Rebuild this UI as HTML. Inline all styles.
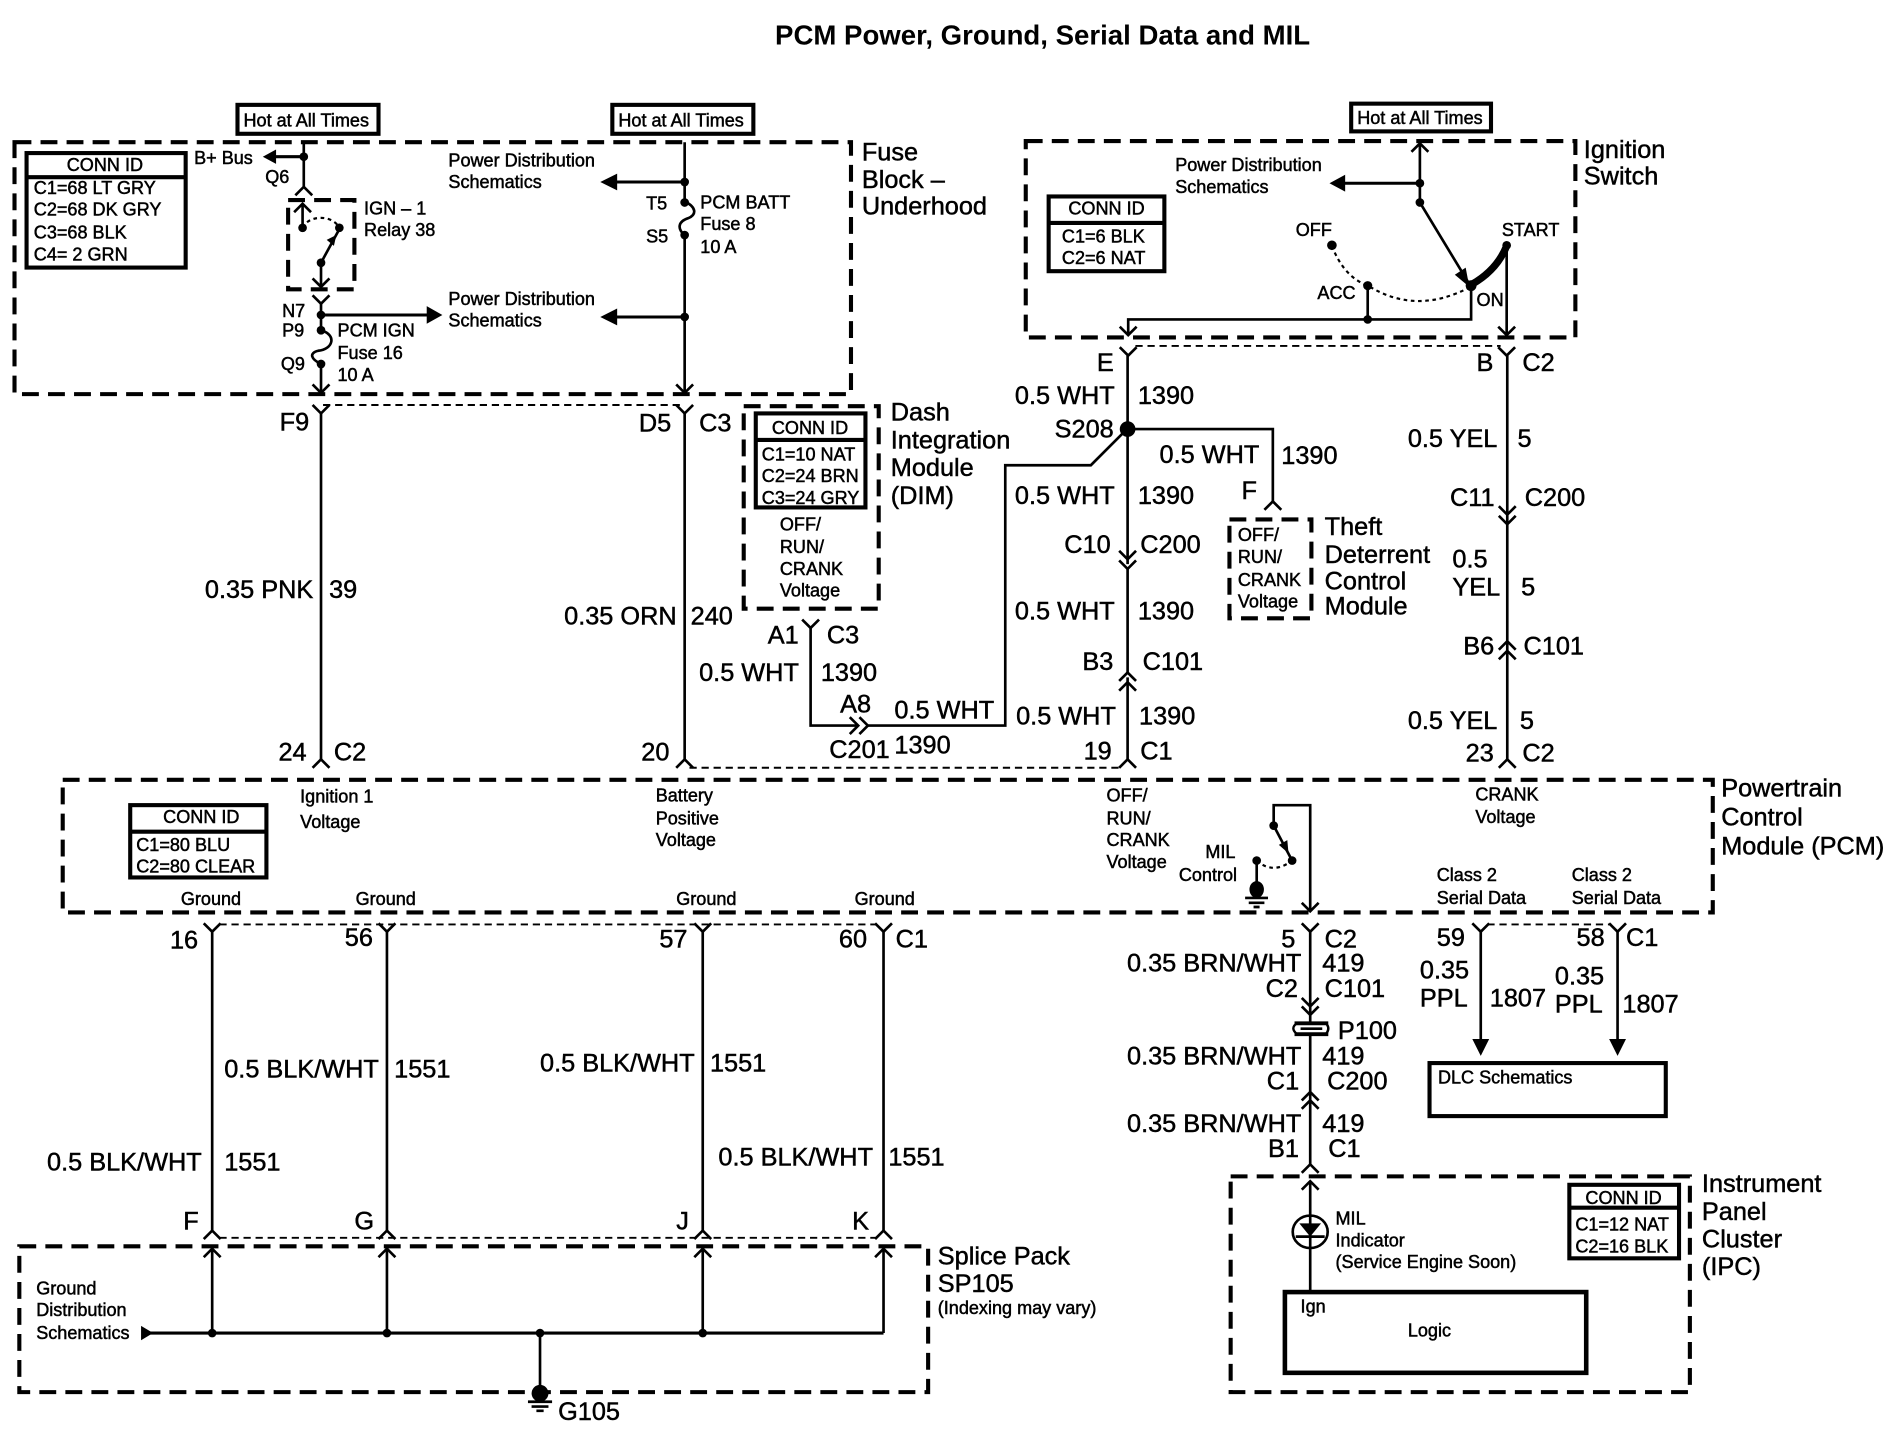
<!DOCTYPE html>
<html><head><meta charset="utf-8"><title>PCM Power, Ground, Serial Data and MIL</title>
<style>
html,body{margin:0;padding:0;background:#fff}
svg{display:block}
text{font-family:"Liberation Sans",Arial,sans-serif;fill:#000;stroke:#000;stroke-width:.4}
.b{font-size:21px}.m{font-size:15px}.t{font-size:22.9px;font-weight:bold;stroke-width:0}
.w{fill:none;stroke:#000;stroke-width:2.2}
.h{fill:none;stroke:#000;stroke-width:2.5}
.k{fill:none;stroke:#000;stroke-width:3.4}
.da{fill:none;stroke:#000;stroke-width:3.4;stroke-dasharray:14 7.6}
.th{fill:none;stroke:#000;stroke-width:1.6;stroke-dasharray:6 4}
.do{fill:none;stroke:#000;stroke-width:1.8;stroke-dasharray:3 3}
</style></head><body>
<svg xmlns="http://www.w3.org/2000/svg" width="1890" height="1456" viewBox="0 0 1568 1208">
<defs>
<path id="v" d="M-7-7L0 0L7-7" fill="none" stroke="#000" stroke-width="2.2"/>
<path id="l" d="M-7 7L0 0L7 7" fill="none" stroke="#000" stroke-width="2.2"/>
<path id="r" d="M-7-7L0 0L-7 7" fill="none" stroke="#000" stroke-width="2.2"/>
<circle id="d" r="3.6" fill="#000"/>
</defs>
<rect width="1568" height="1208" fill="#fff"/>
<text class="t" x="865" y="37" text-anchor="middle">PCM Power, Ground, Serial Data and MIL</text>

<!-- hot boxes -->
<rect class="k" x="197" y="87" width="117" height="24"/><text class="m" x="202" y="105">Hot at All Times</text>
<rect class="k" x="508" y="87" width="117" height="24"/><text class="m" x="513" y="105">Hot at All Times</text>
<rect class="k" x="1121" y="86" width="116" height="23"/><text class="m" x="1126" y="103">Hot at All Times</text>

<!-- Fuse block -->
<rect class="da" x="12" y="118" width="694" height="209"/>
<text class="b" x="715" y="133">Fuse</text><text class="b" x="715" y="156">Block –</text><text class="b" x="715" y="178">Underhood</text>
<rect class="k" x="22" y="127" width="132" height="95"/><path class="k" d="M22 147H154"/>
<text class="m" x="87" y="142" text-anchor="middle">CONN ID</text>
<text class="m" x="28" y="161">C1=68 LT GRY</text><text class="m" x="28" y="179">C2=68 DK GRY</text><text class="m" x="28" y="198">C3=68 BLK</text><text class="m" x="28" y="216">C4= 2 GRN</text>
<text class="m" x="161" y="136">B+ Bus</text><text class="m" x="220" y="152">Q6</text>
<path class="w" d="M252 118V155"/><use href="#l" x="252" y="155"/><use href="#d" x="252" y="130"/>
<path class="h" d="M252 130H226"/><path d="M218 130L229 124V136Z"/>
<rect class="da" x="239" y="166" width="55" height="74"/>
<path class="w" d="M251 189V170"/><use href="#l" x="251" y="169"/><use href="#d" x="251" y="189"/><use href="#d" x="281.5" y="189"/>
<path class="do" d="M251 189C256 178 276 178 281.500 189"/>
<path class="w" d="M266.300 218L281 191"/><path d="M279 196L271 200L277 205Z" transform="translate(0 -1)"/><use href="#d" x="266.300" y="218"/>
<path class="w" d="M266.300 218V237"/><use href="#v" x="266.300" y="238"/>
<text class="m" x="302" y="178">IGN – 1</text><text class="m" x="302" y="196">Relay 38</text>
<use href="#v" x="266.300" y="252"/>
<path class="w" d="M266.300 252V274C280 278 276 290 264 291C256 293 258 298 266.300 302V326"/><use href="#v" x="266.300" y="326"/>
<use href="#d" x="266.300" y="261.300"/><use href="#d" x="266.300" y="274"/><use href="#d" x="266.300" y="302"/>
<path class="h" d="M266.300 261.300H355"/><path d="M367 261.300L354 254V268.600Z"/>
<text class="m" x="234" y="263">N7</text><text class="m" x="234" y="279">P9</text><text class="m" x="233" y="307">Q9</text>
<text class="m" x="280" y="279">PCM IGN</text><text class="m" x="280" y="298">Fuse 16</text><text class="m" x="280" y="316">10 A</text>
<text class="m" x="372" y="138">Power Distribution</text><text class="m" x="372" y="156">Schematics</text>
<text class="m" x="372" y="253">Power Distribution</text><text class="m" x="372" y="271">Schematics</text>
<path class="w" d="M568 118V167C578 172 578 178 571 181C562 184 562 190 568 195V326"/><use href="#v" x="568" y="326"/>
<use href="#d" x="568" y="151"/><use href="#d" x="568" y="168"/><use href="#d" x="568" y="195"/><use href="#d" x="568" y="263"/>
<path class="h" d="M568 151H508"/><path d="M498 151L512 144V158Z"/>
<path class="h" d="M568 263H508"/><path d="M498 263L512 256V270Z"/>
<text class="m" x="536" y="174">T5</text><text class="m" x="536" y="201">S5</text>
<text class="m" x="581" y="173">PCM BATT</text><text class="m" x="581" y="191">Fuse 8</text><text class="m" x="581" y="210">10 A</text>

<!-- wires below fuse block -->
<path class="th" d="M268 336H566"/>
<use href="#v" x="266.300" y="343"/><use href="#v" x="568" y="343"/>
<path class="w" d="M266.300 343V630"/><use href="#l" x="266.300" y="630"/>
<path class="w" d="M568 343V630"/><use href="#l" x="568" y="630"/>
<text class="b" x="232" y="357">F9</text><text class="b" x="530" y="358">D5</text><text class="b" x="580" y="358">C3</text>
<text class="b" x="170" y="496">0.35 PNK</text><text class="b" x="273" y="496">39</text>
<text class="b" x="468" y="518">0.35 ORN</text><text class="b" x="573" y="518">240</text>
<text class="b" x="231" y="631">24</text><text class="b" x="277" y="631">C2</text><text class="b" x="532" y="631">20</text>
<path class="th" d="M572 637H932"/>

<!-- DIM -->
<rect class="da" x="617" y="337" width="112" height="168"/>
<rect class="k" x="627" y="343" width="91" height="78"/><path class="k" d="M627 365H718"/>
<text class="m" x="672" y="360" text-anchor="middle">CONN ID</text>
<text class="m" x="632" y="382">C1=10 NAT</text><text class="m" x="632" y="400">C2=24 BRN</text><text class="m" x="632" y="418">C3=24 GRY</text>
<text class="m" x="647" y="440">OFF/</text><text class="m" x="647" y="459">RUN/</text><text class="m" x="647" y="477">CRANK</text><text class="m" x="647" y="495">Voltage</text>
<text class="b" x="739" y="349">Dash</text><text class="b" x="739" y="372">Integration</text><text class="b" x="739" y="395">Module</text><text class="b" x="739" y="418">(DIM)</text>
<use href="#v" x="672.500" y="521"/>
<path class="w" d="M672.500 521V602H712M720 602H834V386H905L935 356"/>
<use href="#r" x="712" y="602"/><use href="#r" x="720" y="602"/>
<text class="b" x="637" y="534">A1</text><text class="b" x="686" y="534">C3</text>
<text class="b" x="580" y="565">0.5 WHT</text><text class="b" x="681" y="565">1390</text>
<text class="b" x="697" y="591">A8</text><text class="b" x="742" y="596">0.5 WHT</text>
<text class="b" x="688" y="629">C201</text><text class="b" x="742" y="625">1390</text>

<!-- Ignition switch -->
<rect class="da" x="851" y="117" width="456" height="163"/>
<text class="b" x="1314" y="131">Ignition</text><text class="b" x="1314" y="153">Switch</text>
<rect class="k" x="870" y="163" width="96" height="62"/><path class="k" d="M870 185H966"/>
<text class="m" x="918" y="178" text-anchor="middle">CONN ID</text>
<text class="m" x="881" y="201">C1=6 BLK</text><text class="m" x="881" y="219">C2=6 NAT</text>
<text class="m" x="975" y="142">Power Distribution</text><text class="m" x="975" y="160">Schematics</text>
<path class="w" d="M1178 120V168L1218 234"/><use href="#l" x="1178" y="119"/>
<use href="#d" x="1178" y="152"/><use href="#d" x="1178" y="168"/>
<path class="h" d="M1178 152H1112"/><path d="M1103 152L1116 145V159Z"/>
<path d="M1219 238L1207 228L1216 222Z"/>
<path d="M1221 236Q1242 224 1250 204" fill="none" stroke="#000" stroke-width="6"/>
<use href="#d" x="1250" y="203.500"/><circle cx="1220.500" cy="237" r="4.500"/>
<circle cx="1105" cy="203.500" r="4"/>
<path class="do" d="M1105 204Q1115 230 1135 237Q1175 262 1220 238"/>
<circle cx="1134.700" cy="237" r="3.800"/>
<path class="w" d="M1220.500 237V265H936V277"/><path class="w" d="M1134.700 237V265"/><use href="#d" x="1134.700" y="265"/>
<use href="#v" x="936" y="278"/>
<path class="w" d="M1250 204V278"/><use href="#v" x="1250" y="278"/>
<text class="m" x="1075" y="196">OFF</text><text class="m" x="1246" y="196">START</text><text class="m" x="1093" y="248">ACC</text><text class="m" x="1225" y="254">ON</text>

<!-- middle wire -->
<path class="th" d="M942 287H1245"/>
<use href="#v" x="936" y="295"/><use href="#v" x="1250" y="295"/>
<path class="w" d="M935.500 295V468"/><use href="#v" x="935.500" y="464"/><use href="#v" x="935.500" y="472"/>
<path class="w" d="M935.500 472V558"/><use href="#l" x="935.500" y="558"/><use href="#l" x="935.500" y="566"/>
<path class="w" d="M935.500 562V630"/><use href="#l" x="935.500" y="630"/>
<circle cx="935.500" cy="356" r="6.500"/>
<path class="w" d="M935.500 356H1056V416"/><use href="#l" x="1056" y="416"/>
<text class="b" x="910" y="308">E</text><text class="b" x="842" y="335">0.5 WHT</text><text class="b" x="944" y="335">1390</text>
<text class="b" x="875" y="363">S208</text>
<text class="b" x="962" y="384">0.5 WHT</text><text class="b" x="1063" y="385">1390</text><text class="b" x="1030" y="414">F</text>
<text class="b" x="842" y="418">0.5 WHT</text><text class="b" x="944" y="418">1390</text>
<text class="b" x="883" y="459">C10</text><text class="b" x="946" y="459">C200</text>
<text class="b" x="842" y="514">0.5 WHT</text><text class="b" x="944" y="514">1390</text>
<text class="b" x="898" y="556">B3</text><text class="b" x="948" y="556">C101</text>
<text class="b" x="843" y="601">0.5 WHT</text><text class="b" x="945" y="601">1390</text>
<text class="b" x="899" y="630">19</text><text class="b" x="946" y="630">C1</text>

<!-- Theft -->
<rect class="da" x="1020" y="431" width="68" height="82"/>
<text class="m" x="1027" y="449">OFF/</text><text class="m" x="1027" y="467">RUN/</text><text class="m" x="1027" y="486">CRANK</text><text class="m" x="1027" y="504">Voltage</text>
<text class="b" x="1099" y="444">Theft</text><text class="b" x="1099" y="467">Deterrent</text><text class="b" x="1099" y="489">Control</text><text class="b" x="1099" y="510">Module</text>

<!-- right wire -->
<path class="w" d="M1250.500 295V630"/><use href="#v" x="1250.500" y="427"/><use href="#v" x="1250.500" y="435"/>
<use href="#l" x="1250.500" y="532"/><use href="#l" x="1250.500" y="540"/><use href="#l" x="1250.500" y="630"/>
<text class="b" x="1225" y="308">B</text><text class="b" x="1263" y="308">C2</text>
<text class="b" x="1168" y="371">0.5 YEL</text><text class="b" x="1259" y="371">5</text>
<text class="b" x="1203" y="420">C11</text><text class="b" x="1265" y="420">C200</text>
<text class="b" x="1205" y="471">0.5</text><text class="b" x="1205" y="494">YEL</text><text class="b" x="1262" y="494">5</text>
<text class="b" x="1214" y="543">B6</text><text class="b" x="1264" y="543">C101</text>
<text class="b" x="1168" y="605">0.5 YEL</text><text class="b" x="1261" y="605">5</text>
<text class="b" x="1216" y="632">23</text><text class="b" x="1263" y="632">C2</text>

<!-- PCM -->
<rect class="da" x="52" y="647" width="1369" height="110"/>
<text class="b" x="1428" y="661">Powertrain</text><text class="b" x="1428" y="685">Control</text><text class="b" x="1428" y="709">Module (PCM)</text>
<rect class="k" x="108" y="668" width="113" height="60"/><path class="k" d="M108 690H221"/>
<text class="m" x="167" y="683" text-anchor="middle">CONN ID</text>
<text class="m" x="113" y="706">C1=80 BLU</text><text class="m" x="113" y="724">C2=80 CLEAR</text>
<text class="m" x="249" y="666">Ignition 1</text><text class="m" x="249" y="687">Voltage</text>
<text class="m" x="544" y="665">Battery</text><text class="m" x="544" y="684">Positive</text><text class="m" x="544" y="702">Voltage</text>
<text class="m" x="918" y="665">OFF/</text><text class="m" x="918" y="684">RUN/</text><text class="m" x="918" y="702">CRANK</text><text class="m" x="918" y="720">Voltage</text>
<text class="m" x="1224" y="664">CRANK</text><text class="m" x="1224" y="683">Voltage</text>
<text class="m" x="1000" y="712">MIL</text><text class="m" x="978" y="731">Control</text>
<text class="m" x="1192" y="731">Class 2</text><text class="m" x="1192" y="750">Serial Data</text>
<text class="m" x="1304" y="731">Class 2</text><text class="m" x="1304" y="750">Serial Data</text>
<text class="m" x="150" y="751">Ground</text><text class="m" x="295" y="751">Ground</text><text class="m" x="561" y="751">Ground</text><text class="m" x="709" y="751">Ground</text>
<path class="w" d="M1056.700 685V668H1087V755"/><use href="#v" x="1087" y="756"/>
<use href="#d" x="1056.700" y="685"/><use href="#d" x="1072" y="714"/><use href="#d" x="1042.600" y="714"/>
<path class="w" d="M1056.700 685L1072 714"/><path d="M1069 708L1061 701L1068 697Z"/>
<path class="do" d="M1042.600 714Q1056 726 1072 714"/>
<path class="w" d="M1042.600 714V738"/><ellipse cx="1042.600" cy="738" rx="6" ry="7"/>
<path class="w" d="M1033 745H1052M1036 749H1049M1040 752.500H1045"/>

<!-- MIL wire -->
<use href="#v" x="1087" y="773"/>
<path class="w" d="M1087 773V848"/><use href="#v" x="1087" y="835"/><use href="#v" x="1087" y="842"/>
<path d="M1076 849H1100Q1104 853 1100 858H1076Q1070 853 1076 849Z" fill="#fff" stroke="#000" stroke-width="2"/>
<path d="M1074 849H1102M1074 858H1102" stroke="#000" stroke-width="3.200" fill="none"/>
<path class="w" d="M1079 853.500H1097"/>
<path class="w" d="M1087 859V967"/><use href="#l" x="1087" y="906"/><use href="#l" x="1087" y="913"/><use href="#l" x="1087" y="966"/>
<text class="b" x="1063" y="786">5</text><text class="b" x="1099" y="786">C2</text>
<text class="b" x="935" y="806">0.35 BRN/WHT</text><text class="b" x="1097" y="806">419</text>
<text class="b" x="1050" y="827">C2</text><text class="b" x="1099" y="827">C101</text><text class="b" x="1110" y="862">P100</text>
<text class="b" x="935" y="883">0.35 BRN/WHT</text><text class="b" x="1097" y="883">419</text>
<text class="b" x="1051" y="904">C1</text><text class="b" x="1101" y="904">C200</text>
<text class="b" x="935" y="939">0.35 BRN/WHT</text><text class="b" x="1097" y="939">419</text>
<text class="b" x="1052" y="960">B1</text><text class="b" x="1102" y="960">C1</text>

<!-- class 2 -->
<path class="th" d="M1234 767H1337"/>
<use href="#v" x="1228.500" y="773"/><use href="#v" x="1342" y="773"/>
<path class="w" d="M1228.500 773V866"/><path d="M1228.500 876L1221.500 862H1235.500Z"/>
<path class="w" d="M1342 773V866"/><path d="M1342 876L1335 862H1349Z"/>
<text class="b" x="1192" y="785">59</text><text class="b" x="1308" y="785">58</text><text class="b" x="1349" y="785">C1</text>
<text class="b" x="1178" y="812">0.35</text><text class="b" x="1178" y="835">PPL</text><text class="b" x="1236" y="835">1807</text>
<text class="b" x="1290" y="817">0.35</text><text class="b" x="1290" y="840">PPL</text><text class="b" x="1346" y="840">1807</text>
<rect class="k" x="1186" y="882" width="196" height="44"/><text class="m" x="1193" y="899">DLC Schematics</text>

<!-- grounds -->
<path class="th" d="M182 767H727"/>
<use href="#v" x="176" y="773"/><use href="#v" x="321" y="773"/><use href="#v" x="583" y="773"/><use href="#v" x="733" y="773"/>
<path class="w" d="M176 773V1021M321 773V1021M583 773V1021M733 773V1021"/>
<use href="#l" x="176" y="1021"/><use href="#l" x="321" y="1021"/><use href="#l" x="583" y="1021"/><use href="#l" x="733" y="1021"/>
<path class="th" d="M182 1027H727"/>
<text class="b" x="141" y="787">16</text><text class="b" x="286" y="785">56</text><text class="b" x="547" y="786">57</text><text class="b" x="696" y="786">60</text><text class="b" x="743" y="786">C1</text>
<text class="b" x="186" y="894">0.5 BLK/WHT</text><text class="b" x="327" y="894">1551</text>
<text class="b" x="448" y="889">0.5 BLK/WHT</text><text class="b" x="589" y="889">1551</text>
<text class="b" x="39" y="971">0.5 BLK/WHT</text><text class="b" x="186" y="971">1551</text>
<text class="b" x="596" y="967">0.5 BLK/WHT</text><text class="b" x="737" y="967">1551</text>
<text class="b" x="152" y="1020">F</text><text class="b" x="294" y="1020">G</text><text class="b" x="561" y="1020">J</text><text class="b" x="707" y="1020">K</text>

<!-- splice -->
<rect class="da" x="16" y="1034" width="754" height="121"/>
<text class="b" x="778" y="1049">Splice Pack</text><text class="b" x="778" y="1072">SP105</text><text class="m" x="778" y="1090">(Indexing may vary)</text>
<text class="m" x="30" y="1074">Ground</text><text class="m" x="30" y="1092">Distribution</text><text class="m" x="30" y="1111">Schematics</text>
<path d="M127 1106L117 1100V1112Z"/>
<path class="h" d="M124 1106H733"/>
<path class="w" d="M176 1037V1106M321 1037V1106M583 1037V1106M733 1037V1106"/>
<use href="#l" x="176" y="1036"/><use href="#l" x="321" y="1036"/><use href="#l" x="583" y="1036"/><use href="#l" x="733" y="1036"/>
<use href="#d" x="176" y="1106"/><use href="#d" x="321" y="1106"/><use href="#d" x="448" y="1106"/><use href="#d" x="583" y="1106"/>
<path class="w" d="M448 1106V1155"/><ellipse cx="448" cy="1156" rx="7" ry="7"/>
<path class="w" d="M438 1163H458M441 1167H455M445 1170.500H451"/>
<text class="b" x="463" y="1178">G105</text>

<!-- IPC -->
<rect class="da" x="1021" y="976" width="381" height="179"/>
<text class="b" x="1412" y="989">Instrument</text><text class="b" x="1412" y="1012">Panel</text><text class="b" x="1412" y="1035">Cluster</text><text class="b" x="1412" y="1058">(IPC)</text>
<rect class="k" x="1302" y="983" width="91" height="61"/><path class="k" d="M1302 1002H1393"/>
<text class="m" x="1347" y="999" text-anchor="middle">CONN ID</text>
<text class="m" x="1307" y="1021">C1=12 NAT</text><text class="m" x="1307" y="1039">C2=16 BLK</text>
<path class="w" d="M1087 980V1071"/><use href="#l" x="1087" y="980"/>
<ellipse cx="1087" cy="1022" rx="14.500" ry="13.500" fill="#fff" stroke="#000" stroke-width="2.200"/>
<path class="w" d="M1087 1008V1035M1075 1026H1099"/><path d="M1078 1015H1096L1087 1026Z"/>
<text class="m" x="1108" y="1016">MIL</text><text class="m" x="1108" y="1034">Indicator</text><text class="m" x="1108" y="1052">(Service Engine Soon)</text>
<rect x="1066" y="1072" width="250" height="67" fill="none" stroke="#000" stroke-width="3.800"/>
<text class="m" x="1079" y="1089">Ign</text><text class="m" x="1168" y="1109">Logic</text>
</svg>
</body></html>
